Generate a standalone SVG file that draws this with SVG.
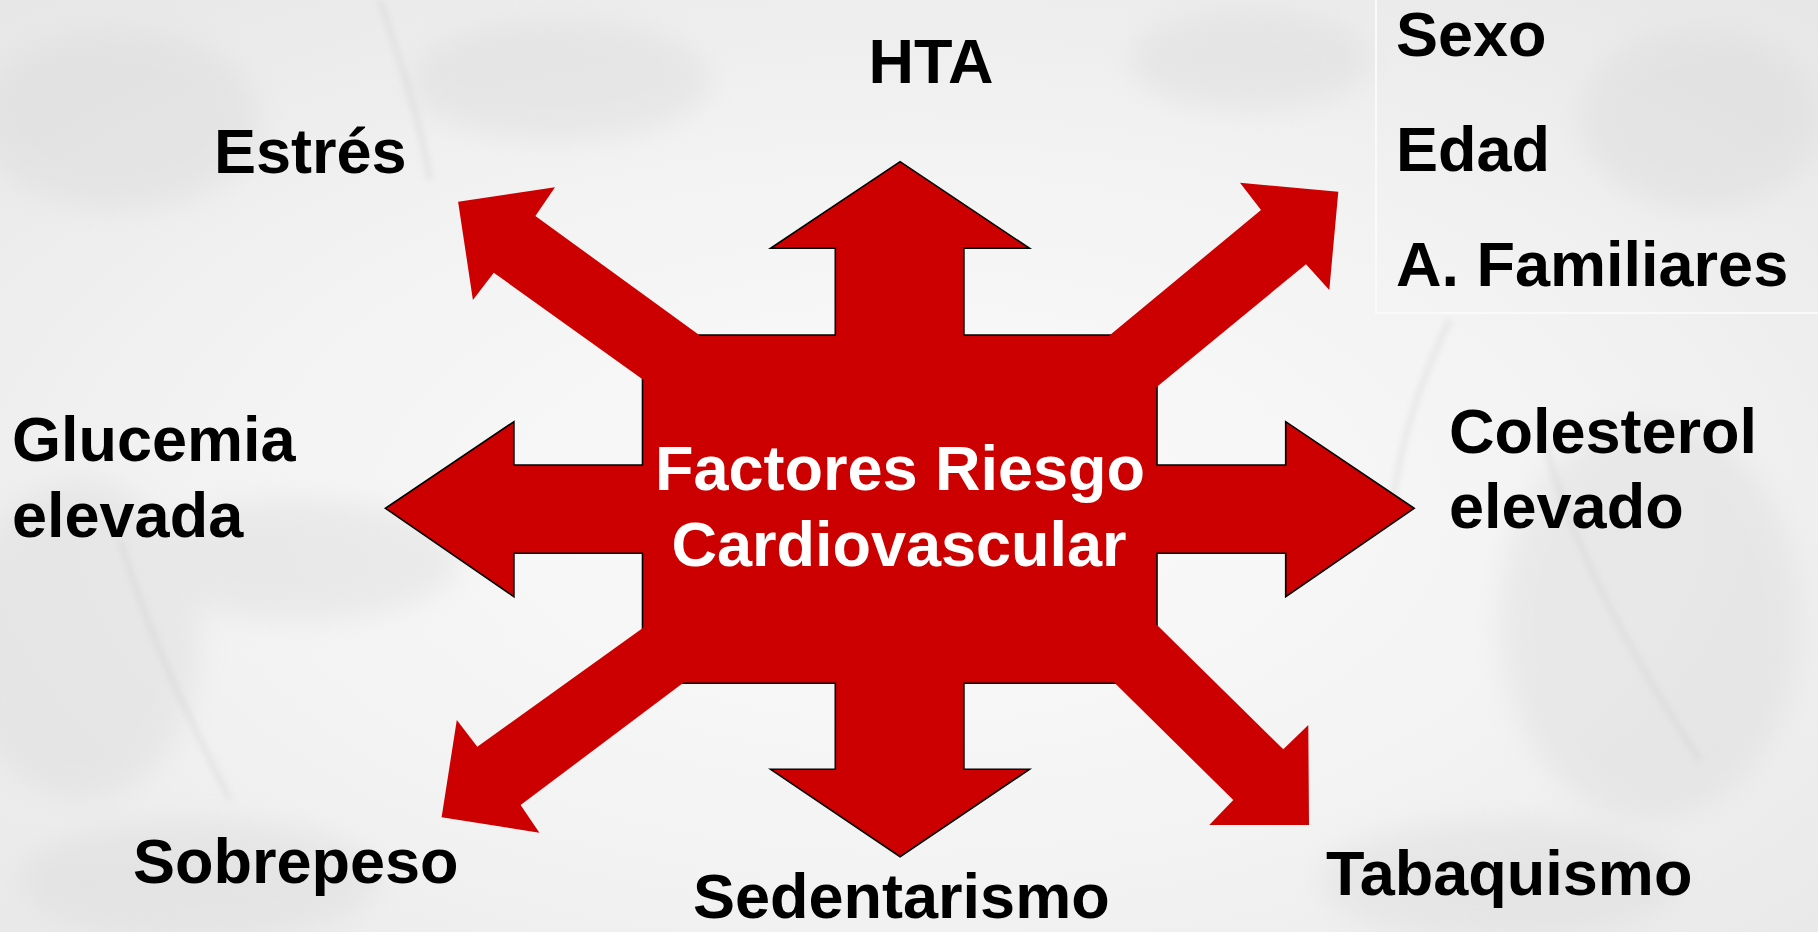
<svg xmlns="http://www.w3.org/2000/svg" width="1818" height="932" viewBox="0 0 1818 932">
  <style>
    .lbl { font-family: "Liberation Sans", Arial, sans-serif; font-weight: bold; font-size: 63px; fill: #000000; }
    .ctr { font-family: "Liberation Sans", Arial, sans-serif; font-weight: bold; font-size: 63px; fill: #ffffff; text-anchor: middle; }
    .red { fill: #CC0000; }
    .redline { fill: #CC0000; stroke: #000000; stroke-width: 1.6; stroke-linejoin: miter; }
  </style>
  <defs>
    <radialGradient id="bg" cx="50%" cy="55%" r="75%">
      <stop offset="0" stop-color="#fbfbfb"/>
      <stop offset="0.55" stop-color="#f2f2f2"/>
      <stop offset="1" stop-color="#e6e6e6"/>
    </radialGradient>
    <filter id="blur" x="-20%" y="-20%" width="140%" height="140%">
      <feGaussianBlur stdDeviation="14"/>
    </filter>
    <filter id="blur2" x="-20%" y="-20%" width="140%" height="140%">
      <feGaussianBlur stdDeviation="3"/>
    </filter>
  </defs>

  <!-- background -->
  <g id="background">
    <rect x="0" y="0" width="1818" height="932" fill="url(#bg)"/>
    <g filter="url(#blur)" fill="#d6d6d6" opacity="0.35">
      <ellipse cx="120" cy="120" rx="140" ry="90"/>
      <ellipse cx="80" cy="640" rx="120" ry="160"/>
      <ellipse cx="300" cy="560" rx="160" ry="60"/>
      <ellipse cx="1650" cy="620" rx="150" ry="200"/>
      <ellipse cx="1700" cy="120" rx="120" ry="90"/>
      <ellipse cx="1250" cy="60" rx="120" ry="50"/>
      <ellipse cx="560" cy="80" rx="150" ry="60"/>
      <ellipse cx="1500" cy="880" rx="180" ry="60"/>
      <ellipse cx="200" cy="880" rx="180" ry="60"/>
    </g>
    <g filter="url(#blur2)" fill="none" stroke="#c8c8c8" stroke-width="5" opacity="0.35">
      <path d="M120 540 C 150 640, 190 720, 230 800"/>
      <path d="M1540 420 C 1560 520, 1620 640, 1700 760"/>
      <path d="M380 0 C 400 60, 420 120, 430 180"/>
      <path d="M1450 320 C 1420 380, 1400 440, 1390 520"/>
    </g>
    <path d="M1376 0 V 313 H 1818" fill="none" stroke="#fafafa" stroke-width="2"/>
  </g>

  <!-- arrows (connectors) -->
  <g id="connectors">
    <polygon class="redline" points="642.5,335 835.3,335 835.3,248.3 770.6,248.3 900.1,161.7 1029.5,248.3 963.9,248.3 963.9,335 1157,335 1157,465 1285.7,465 1285.7,421.7 1414.2,508.3 1285.7,596.7 1285.7,553.3 1157,553.3 1157,683.3 963.9,683.3 963.9,769.3 1029.5,769.3 900.1,856.7 770.6,769.3 835.3,769.3 835.3,683.3 642.5,683.3 642.5,553.3 513.9,553.3 513.9,596.7 385.4,508.3 513.9,421.7 513.9,465 642.5,465"/>
    <polygon class="red" points="699.2,335 535.4,216 555,187.3 458.1,201.7 472.9,300 493.8,272.7 642.5,379.3 720,420"/>
    <polygon class="red" points="1110,335 1261,210 1240,182.7 1338.3,191.7 1329.3,290 1306,264.3 1157,386.7 1080,420"/>
    <polygon class="red" points="1157,625 1283.3,749.3 1308.3,725 1309,825 1209.3,825 1233.3,800 1115,683.3 1080,600"/>
    <polygon class="red" points="642.5,628.3 477.3,746.7 456.8,720 441.6,817.3 539.4,832.7 520.6,805 682.7,683.3 720,600"/>
  </g>

  <g id="node-center">
    <text class="ctr" x="900" y="490">Factores Riesgo</text>
    <text class="ctr" x="899" y="566">Cardiovascular</text>
  </g>

  <g id="node-hta"><text class="lbl" x="931" y="83" text-anchor="middle">HTA</text></g>
  <g id="node-estres"><text class="lbl" x="214" y="173">Estrés</text></g>
  <g id="node-nonmodifiable">
    <text class="lbl" x="1396" y="56">Sexo</text>
    <text class="lbl" x="1396" y="171">Edad</text>
    <text class="lbl" x="1396" y="286">A. Familiares</text>
  </g>
  <g id="node-glucemia">
    <text class="lbl" x="12" y="461">Glucemia</text>
    <text class="lbl" x="12" y="537">elevada</text>
  </g>
  <g id="node-colesterol">
    <text class="lbl" x="1449" y="453">Colesterol</text>
    <text class="lbl" x="1449" y="528">elevado</text>
  </g>
  <g id="node-sobrepeso"><text class="lbl" x="133" y="883">Sobrepeso</text></g>
  <g id="node-sedentarismo"><text class="lbl" x="693" y="918">Sedentarismo</text></g>
  <g id="node-tabaquismo"><text class="lbl" x="1326" y="895">Tabaquismo</text></g>
</svg>
